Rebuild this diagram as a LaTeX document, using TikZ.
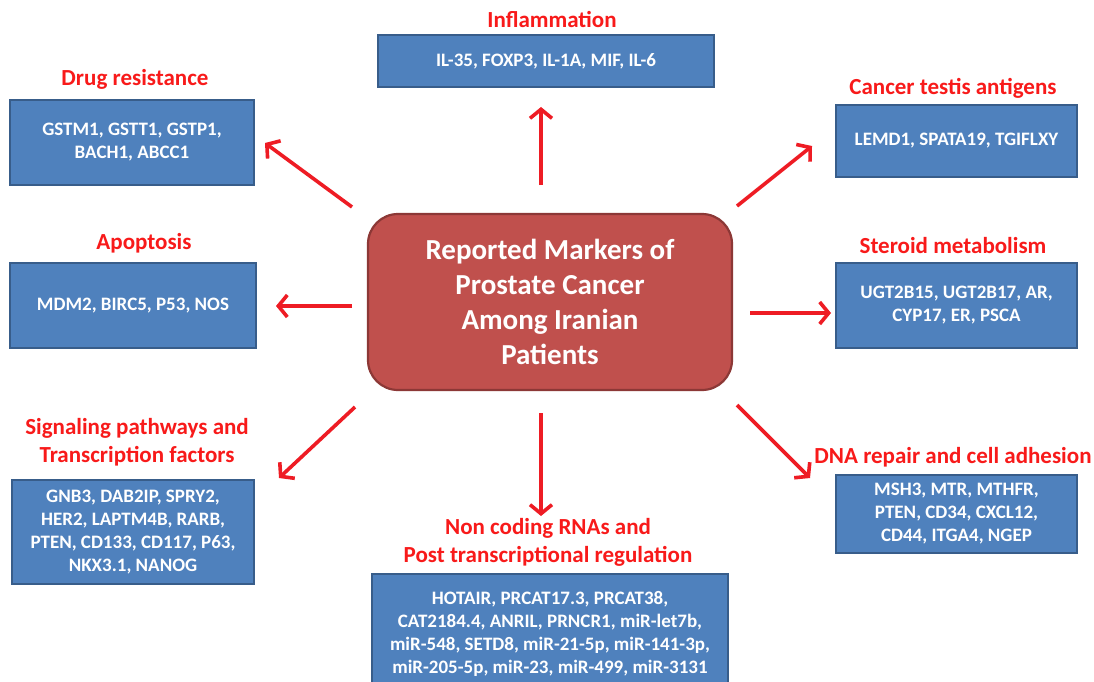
\documentclass[tikz,border=0pt]{standalone}
\usepackage{fontspec}
\setmainfont{Carlito}
\usetikzlibrary{arrows.meta}
\definecolor{boxblue}{HTML}{4F81BD}
\definecolor{boxblueline}{HTML}{385D8A}
\definecolor{ctrred}{HTML}{C0504D}
\definecolor{ctrline}{HTML}{8C3836}
\definecolor{titlered}{HTML}{F81A1A}
\definecolor{arrred}{HTML}{EE1C24}
\tikzset{
  markerbox/.style={draw=boxblueline, line width=1.8pt, fill=boxblue, text=white,
    font=\fontsize{19}{23}\selectfont\bfseries, align=center, inner sep=0pt},
  grouptitle/.style={text=titlered, font=\fontsize{23}{28.5}\selectfont\bfseries, align=center, inner sep=0pt},
  centerbox/.style={draw=ctrline, line width=2.2pt, fill=ctrred, text=white, rounded corners=30pt,
    font=\fontsize{29}{35}\selectfont\bfseries, align=center, inner sep=0pt,
    minimum width=364pt, minimum height=176pt},
  redarrow/.style={draw=arrred, line width=3.6pt, -{Straight Barb[length=9pt,width=22pt,line width=3.6pt]}}
}
\begin{document}
\begin{tikzpicture}[x=1pt,y=-1pt]
\clip (0,0) rectangle (1094,682);
\fill[white] (0,0) rectangle (1094,682);

\node[centerbox] (ctr) at (550,302) {Reported Markers of\\Prostate Cancer\\Among Iranian\\Patients};

% boxes
\node[markerbox, minimum width=244pt, minimum height=85pt] (drug) at (132,142.5) {GSTM1, GSTT1, GSTP1,\\BACH1, ABCC1};
\node[grouptitle] (drugT) at (135,79) {Drug resistance};

\node[markerbox, minimum width=336pt, minimum height=52pt] (infl) at (546,61) {IL-35, FOXP3, IL-1A, MIF, IL-6};
\node[grouptitle] (inflT) at (552,20) {Inflammation};

\node[markerbox, minimum width=241pt, minimum height=72pt] (cta) at (956.5,141) {LEMD1, SPATA19, TGIFLXY};
\node[grouptitle] (ctaT) at (953,88) {Cancer testis antigens};

\node[markerbox, minimum width=241pt, minimum height=85pt] (ster) at (956.5,305.5) {UGT2B15, UGT2B17, AR,\\CYP17, ER, PSCA};
\node[grouptitle] (sterT) at (953,246) {Steroid metabolism};

\node[markerbox, minimum width=246pt, minimum height=85pt] (apo) at (133,305.5) {MDM2, BIRC5, P53, NOS};
\node[grouptitle] (apoT) at (144,243) {Apoptosis};

\node[markerbox, minimum width=242pt, minimum height=104pt] (sig) at (133,532) {GNB3, DAB2IP, SPRY2,\\HER2, LAPTM4B, RARB,\\PTEN, CD133, CD117, P63,\\NKX3.1, NANOG};
\node[grouptitle] (sigT) at (137,442) {Signaling pathways and\\Transcription factors};

\node[markerbox, minimum width=356pt, minimum height=120pt, anchor=north] (ncr) at (550,573) {HOTAIR, PRCAT17.3, PRCAT38,\\CAT2184.4, ANRIL, PRNCR1, miR-let7b,\\miR-548, SETD8, miR-21-5p, miR-141-3p,\\miR-205-5p, miR-23, miR-499, miR-3131};
\node[grouptitle] (ncrT) at (548,542.5) {Non coding RNAs and\\Post transcriptional regulation};

\node[markerbox, minimum width=241pt, minimum height=78pt] (dna) at (956.5,514) {MSH3, MTR, MTHFR,\\PTEN, CD34, CXCL12,\\CD44, ITGA4, NGEP};
\node[grouptitle] (dnaT) at (953,457) {DNA repair and cell adhesion};

% arrow end points
\coordinate (aDrugS) at (352,207);   \coordinate (aDrugE) at (265,143);
\coordinate (aInflS) at (541,185);   \coordinate (aInflE) at (541,107);
\coordinate (aCtaS)  at (737,206);   \coordinate (aCtaE)  at (812,146);
\coordinate (aApoS)  at (352,306);   \coordinate (aApoE)  at (276,306);
\coordinate (aSterS) at (750,313);   \coordinate (aSterE) at (831,313);
\coordinate (aSigS)  at (355,407);   \coordinate (aSigE)  at (279,478);
\coordinate (aNcrS)  at (541,413);   \coordinate (aNcrE)  at (541,516);
\coordinate (aDnaS)  at (737,405);   \coordinate (aDnaE)  at (810,478);

\draw[redarrow] (aDrugS) -- (aDrugE);
\draw[redarrow] (aInflS) -- (aInflE);
\draw[redarrow] (aCtaS) -- (aCtaE);
\draw[redarrow] (aApoS) -- (aApoE);
\draw[redarrow] (aSterS) -- (aSterE);
\draw[redarrow] (aSigS) -- (aSigE);
\draw[redarrow] (aNcrS) -- (aNcrE);
\draw[redarrow] (aDnaS) -- (aDnaE);
\end{tikzpicture}
\end{document}
